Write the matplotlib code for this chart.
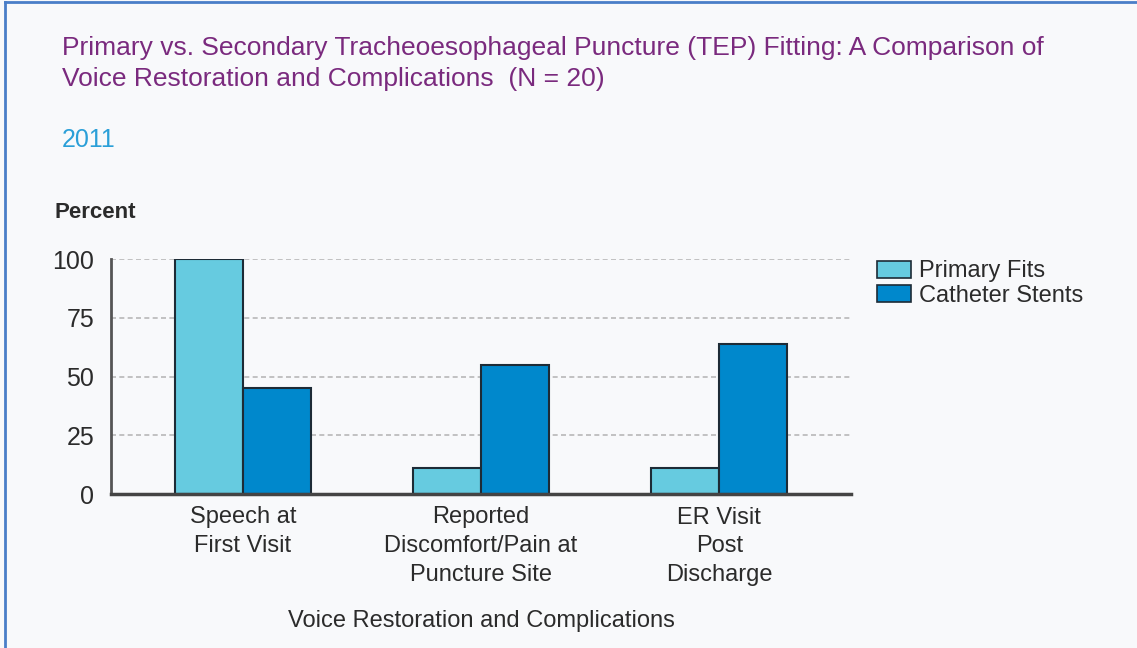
import numpy as np
import matplotlib
matplotlib.use("Agg")
import matplotlib.pyplot as plt
from matplotlib.patches import Patch
from matplotlib.lines import Line2D

plt.rcParams["font.family"] = ["Liberation Sans Narrow", "Liberation Sans", "DejaVu Sans"]

# ── data ──────────────────────────────────────────────────────────────────────
categories = ["Speech at\nFirst Visit",
              "Reported\nDiscomfort/Pain at\nPuncture Site",
              "ER Visit\nPost\nDischarge"]
primary_fits     = [100, 11, 11]
catheter_stents  = [45, 55, 64]
series_names     = ["Primary Fits", "Catheter Stents"]
yticks           = [0, 25, 50, 75, 100]

title = ("Primary vs. Secondary Tracheoesophageal Puncture (TEP) Fitting: A Comparison of\n"
         "Voice Restoration and Complications  (N = 20)")
subtitle = "2011"

# ── style ─────────────────────────────────────────────────────────────────────
C_PRIMARY  = "#66cbe0"
C_CATHETER = "#0088cc"
C_EDGE     = "#1d2b36"
C_TITLE    = "#7a2a7e"
C_YEAR     = "#2a9fd8"
C_TEXT     = "#2b2b2b"

fig = plt.figure(figsize=(11.37, 6.48), dpi=100)
fig.patch.set_facecolor("#f8f9fb")

# blue frame (left and top edges)
fig.add_artist(Line2D([0.004, 0.004], [0, 0.997], transform=fig.transFigure,
                      color="#4a7ec8", lw=2))
fig.add_artist(Line2D([0.004, 1], [0.997, 0.997], transform=fig.transFigure,
                      color="#4a7ec8", lw=2))

ax = fig.add_axes([111 / 1137, 1 - 494 / 648, (851 - 111) / 1137, (494 - 259) / 648])
ax.set_facecolor("none")

x = np.arange(len(categories))
w = 0.285
ax.bar(x - w / 2, primary_fits, w, color=C_PRIMARY, edgecolor=C_EDGE, lw=1.5, zorder=3)
ax.bar(x + w / 2, catheter_stents, w, color=C_CATHETER, edgecolor=C_EDGE, lw=1.5, zorder=3)

ax.set_xlim(-0.553, 2.553)
ax.set_ylim(0, 100)
ax.set_yticks(yticks)
ax.set_yticklabels([str(v) for v in yticks], fontsize=18, color=C_TEXT)
ax.set_xticks(x)
ax.set_xticklabels(categories, fontsize=17, color=C_TEXT, linespacing=1.4)
ax.tick_params(length=0, pad=9)
ax.tick_params(axis="y", pad=12)

for v in yticks[1:]:
    ax.axhline(v, color="#b8b8b8", lw=1.2, ls=(0, (3, 2)), zorder=1)

for s in ["top", "right"]:
    ax.spines[s].set_visible(False)
ax.spines["left"].set_color("#555555")
ax.spines["left"].set_linewidth(2)
ax.spines["bottom"].set_color("#444444")
ax.spines["bottom"].set_linewidth(2.5)
ax.spines["bottom"].set_zorder(4)

ax.set_xlabel("Voice Restoration and Complications", fontsize=17, color=C_TEXT, labelpad=17)

fig.text(55 / 1137, 1 - 213 / 648, "Percent", fontsize=16, fontweight="bold",
         color=C_TEXT, va="center", ha="left")

fig.text(62 / 1137, 1 - 36 / 648, title, fontsize=19, color=C_TITLE,
         va="top", ha="left", linespacing=1.37)
fig.text(62 / 1137, 1 - 140 / 648, subtitle, fontsize=18, color=C_YEAR,
         va="center", ha="left")

handles = [Patch(facecolor=C_PRIMARY, edgecolor=C_EDGE, lw=1.2),
           Patch(facecolor=C_CATHETER, edgecolor=C_EDGE, lw=1.2)]
fig.legend(handles, series_names, loc="upper left",
           bbox_to_anchor=(868 / 1137, 1 - 251 / 648), frameon=False,
           fontsize=17, handlelength=1.4, handleheight=0.75, handletextpad=0.35,
           labelspacing=0.1, labelcolor=C_TEXT, borderaxespad=0)

fig.savefig("out.png", dpi=100, facecolor=fig.get_facecolor())
